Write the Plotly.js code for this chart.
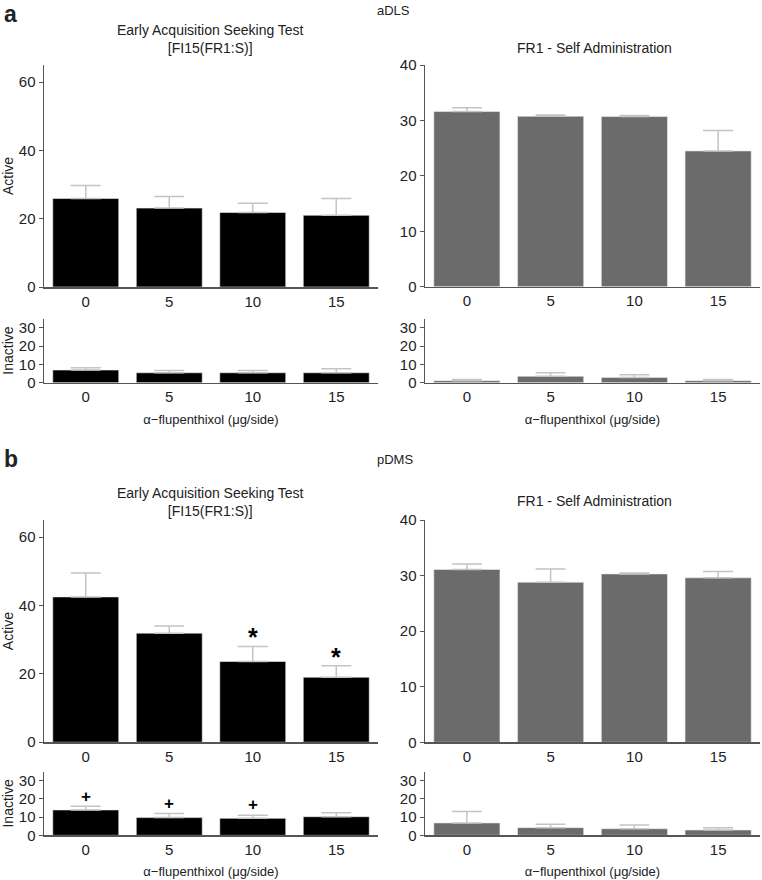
<!DOCTYPE html>
<html>
<head>
<meta charset="utf-8">
<script src="https://cdn.plot.ly/plotly-3.0.1.min.js"></script>
<style>html,body{margin:0;padding:0;background:#fff;}#chart{width:762px;height:880px;}</style>
</head>
<body>
<div id="chart"></div>
<script>
// ---- data ----
const doses = ['0', '5', '10', '15'];

const aSeekActive = [25.9, 23.1, 21.8, 21.0];
const aSeekActiveErr = [3.8, 3.4, 2.7, 4.9];
const aSeekInactive = [6.9, 5.4, 5.4, 5.4];
const aSeekInactiveErr = [1.2, 1.3, 1.2, 2.2];
const aFR1Active = [31.6, 30.75, 30.7, 24.5];
const aFR1ActiveErr = [0.7, 0.25, 0.2, 3.7];
const aFR1Inactive = [1.1, 3.5, 2.9, 1.1];
const aFR1InactiveErr = [0.7, 1.9, 1.4, 0.6];

const bSeekActive = [42.5, 31.9, 23.6, 19.0];
const bSeekActiveErr = [7.0, 2.1, 4.4, 3.4];
const bSeekInactive = [13.9, 9.7, 9.3, 10.2];
const bSeekInactiveErr = [2.0, 2.2, 1.7, 2.2];
const bFR1Active = [31.1, 28.8, 30.3, 29.6];
const bFR1ActiveErr = [1.0, 2.4, 0.15, 1.15];
const bFR1Inactive = [6.8, 4.2, 3.6, 2.9];
const bFR1InactiveErr = [6.2, 1.8, 2.1, 1.3];

const starDoses = ['10', '15'];
const starY = [30.9, 25.0];
const plusDoses = ['0', '5', '10'];
const plusY = [21.4, 17.2, 16.8];

const seekTitle = 'Early Acquisition Seeking Test<br>[FI15(FR1:S)]';
const fr1Title = 'FR1 - Self Administration';
const xTitle = 'α−flupenthixol (μg/side)';

// ---- layout helpers ----
const W = 762, H = 880;
const FONT = 'Liberation Sans, Arial, sans-serif';
const TXT = '#222';
const AX = '#555';
const hx = (a, b) => [a / W, b / W];
const vy = (top, bot) => [1 - bot / H, 1 - top / H];

function bar(vals, errs, xa, ya, color) {
  return {
    type: 'bar', x: doses, y: vals, xaxis: xa, yaxis: ya,
    marker: {color: color, line: {color: '#eee', width: 0.6}},
    error_y: {type: 'data', symmetric: false, array: errs, arrayminus: errs.map(() => 0),
              color: '#c4c4c4', thickness: 1.5, width: 15},
    showlegend: false, hoverinfo: 'x+y'
  };
}

const BLACK = '#000000', GREY = '#6b6b6b';
const data = [
  bar(aSeekActive, aSeekActiveErr, 'x', 'y', BLACK),
  bar(aFR1Active, aFR1ActiveErr, 'x2', 'y2', GREY),
  bar(aSeekInactive, aSeekInactiveErr, 'x3', 'y3', BLACK),
  bar(aFR1Inactive, aFR1InactiveErr, 'x4', 'y4', GREY),
  bar(bSeekActive, bSeekActiveErr, 'x5', 'y5', BLACK),
  bar(bFR1Active, bFR1ActiveErr, 'x6', 'y6', GREY),
  bar(bSeekInactive, bSeekInactiveErr, 'x7', 'y7', BLACK),
  bar(bFR1Inactive, bFR1InactiveErr, 'x8', 'y8', GREY)
];

function xax(dom, anchor, title) {
  const o = {
    domain: dom, anchor: anchor, type: 'category', range: [-0.5, 3.5],
    showline: true, linecolor: AX, linewidth: 1.5, ticks: '', showgrid: false, zeroline: false,
    tickfont: {family: FONT, size: 15, color: TXT}, fixedrange: true
  };
  if (title) o.title = {text: title, font: {family: FONT, size: 13, color: TXT}, standoff: 10};
  return o;
}
function yax(dom, anchor, range, tickvals, title) {
  const o = {
    domain: dom, anchor: anchor, range: range, tickvals: tickvals,
    showline: true, linecolor: AX, linewidth: 1.5, ticks: 'outside', ticklen: 4, tickcolor: AX,
    showgrid: false, zeroline: false, tickfont: {family: FONT, size: 15, color: TXT}, fixedrange: true
  };
  if (title) o.title = {text: title, font: {family: FONT, size: 14, color: TXT}, standoff: 6};
  return o;
}

const LX = hx(44, 378), RX = hx(425, 760);
const layout = {
  width: W, height: H, margin: {l: 0, r: 0, t: 0, b: 0},
  paper_bgcolor: '#fff', plot_bgcolor: 'rgba(0,0,0,0)',
  font: {family: FONT, color: TXT},
  bargap: 0.21,
  xaxis: xax(LX, 'y'), yaxis: yax(vy(65, 287), 'x', [0, 65], [0, 20, 40, 60], 'Active'),
  xaxis2: xax(RX, 'y2'), yaxis2: yax(vy(65, 286.7), 'x2', [0, 40], [0, 10, 20, 30, 40]),
  xaxis3: xax(LX, 'y3', xTitle), yaxis3: yax(vy(318.5, 382.7), 'x3', [0, 35], [0, 10, 20, 30], 'Inactive'),
  xaxis4: xax(RX, 'y4', xTitle), yaxis4: yax(vy(318.5, 382.7), 'x4', [0, 35], [0, 10, 20, 30]),
  xaxis5: xax(LX, 'y5'), yaxis5: yax(vy(520, 742.2), 'x5', [0, 65], [0, 20, 40, 60], 'Active'),
  xaxis6: xax(RX, 'y6'), yaxis6: yax(vy(520, 742.3), 'x6', [0, 40], [0, 10, 20, 30, 40]),
  xaxis7: xax(LX, 'y7', xTitle), yaxis7: yax(vy(771.5, 835.3), 'x7', [0, 35], [0, 10, 20, 30], 'Inactive'),
  xaxis8: xax(RX, 'y8', xTitle), yaxis8: yax(vy(771.5, 835.3), 'x8', [0, 35], [0, 10, 20, 30]),
  annotations: []
};

const ann = layout.annotations;
function ptext(text, px, py, size, bold, xanchor, yanchor) {
  ann.push({xref: 'paper', yref: 'paper', x: px / W, y: 1 - py / H, text: bold ? '<b>' + text + '</b>' : text,
            showarrow: false, xanchor: xanchor || 'center', yanchor: yanchor || 'middle', borderpad: 0,
            font: {family: FONT, size: size, color: TXT}});
}
ptext('a', 3, 0, 23, true, 'left', 'top');
ptext('aDLS', 393, 11, 13, false);
ptext(seekTitle, 210, 39, 14, false);
ptext(fr1Title, 594, 48, 14, false);
ptext('b', 3, 445, 23, true, 'left', 'top');
ptext('pDMS', 395, 459, 13, false);
ptext(seekTitle, 210, 502, 14, false);
ptext(fr1Title, 594, 501, 14, false);

// category axes: annotations are positioned by category index
starDoses.forEach((d, i) => ann.push({xref: 'x5', yref: 'y5', x: doses.indexOf(d), y: starY[i], text: '<b>*</b>',
  showarrow: false, yanchor: 'middle', font: {family: FONT, size: 25, color: '#000'}}));
plusDoses.forEach((d, i) => ann.push({xref: 'x7', yref: 'y7', x: doses.indexOf(d), y: plusY[i], text: '<b>+</b>',
  showarrow: false, yanchor: 'middle', font: {family: FONT, size: 17, color: '#000'}}));

Plotly.newPlot('chart', data, layout, {displayModeBar: false, staticPlot: true});
</script>
</body>
</html>
